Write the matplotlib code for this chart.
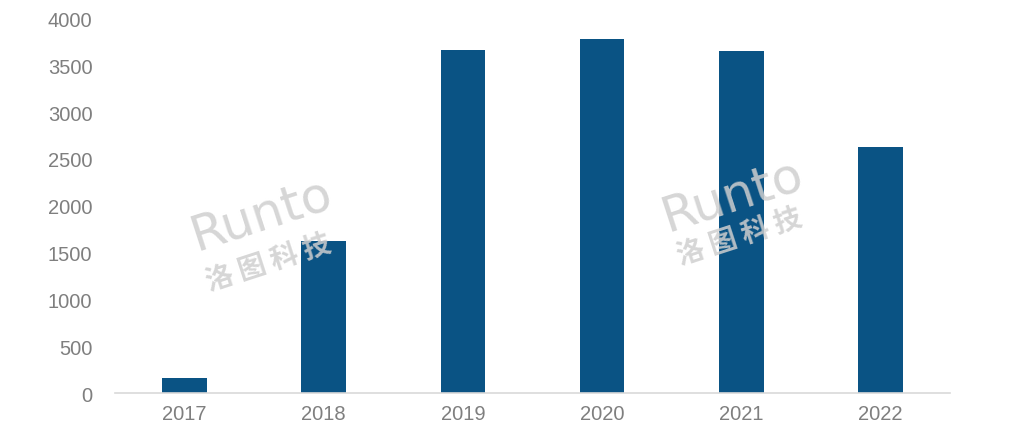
import matplotlib

matplotlib.use("Agg")
import matplotlib.pyplot as plt
import numpy as np

plt.rcParams["font.family"] = ["Noto Sans CJK SC", "DejaVu Sans"]

years = ["2017", "2018", "2019", "2020", "2021", "2022"]
values = [165, 1620, 3662, 3782, 3655, 2628]
y_ticks = [0, 500, 1000, 1500, 2000, 2500, 3000, 3500, 4000]

fig = plt.figure(figsize=(10.24, 4.39), dpi=100)
ax = fig.add_axes([0.112, 0.1025, 0.816, 0.8531])

x = np.arange(len(years))
ax.bar(x, values, width=0.32, color="#0a5384", zorder=2)

ax.set_xlim(-0.5, len(years) - 0.5)
ax.set_ylim(0, 4000)
ax.set_yticks(y_ticks)
ax.set_yticklabels([str(t) for t in y_ticks], family=["Liberation Sans", "DejaVu Sans"])
ax.set_xticks(x)
ax.set_xticklabels(years, family=["Liberation Sans", "DejaVu Sans"])
ax.tick_params(axis="both", length=0, colors="#7f7f7f", labelsize=14.5)
ax.tick_params(axis="x", pad=8)
ax.tick_params(axis="y", pad=16)

for side in ["top", "right", "left"]:
    ax.spines[side].set_visible(False)
ax.spines["bottom"].set_color("#d9d9d9")
ax.spines["bottom"].set_linewidth(1.2)

# watermarks
for (rx, ry), (cx, cy) in [((0.255, 0.51), (0.262, 0.40)), ((0.715, 0.555), (0.722, 0.46))]:
    fig.text(rx, ry, "Runto", fontsize=36, color="#cfcfcf", alpha=0.85,
             rotation=18, ha="center", va="center", family=["DejaVu Sans"], zorder=5)
    fig.text(cx, cy, "洛 图 科 技", fontsize=20, fontweight="bold",
             color="#cfcfcf", alpha=0.85, rotation=18, ha="center", va="center", zorder=5)

fig.savefig("out.png", dpi=100, facecolor="white")
